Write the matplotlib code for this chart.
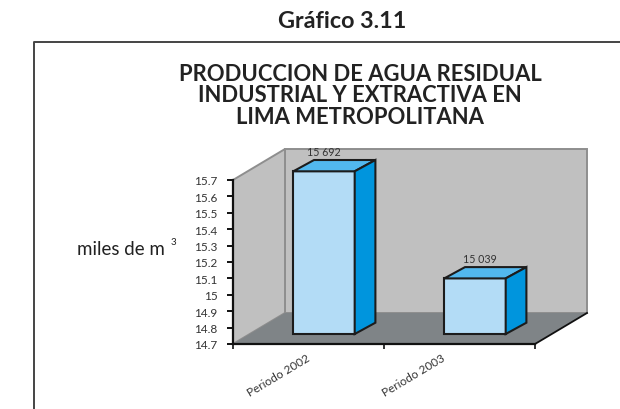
import matplotlib
matplotlib.use("Agg")
import matplotlib.pyplot as plt
from matplotlib.lines import Line2D
from matplotlib.patches import Polygon

plt.rcParams['font.family'] = ['Lato', 'DejaVu Sans']

periods = ["Periodo 2002", "Periodo 2003"]
values = [15.692, 15.039]
value_labels = ["15 692", "15 039"]
yticks = [14.7, 14.8, 14.9, 15, 15.1, 15.2, 15.3, 15.4, 15.5, 15.6, 15.7]
ytick_labels = ["14.7", "14.8", "14.9", "15", "15.1", "15.2", "15.3", "15.4", "15.5", "15.6", "15.7"]
title_lines = "PRODUCCION DE AGUA RESIDUAL\nINDUSTRIAL Y EXTRACTIVA EN\nLIMA METROPOLITANA"

W, H = 620, 410
fig = plt.figure(figsize=(W / 100, H / 100), dpi=100)
# front plane of the fake 3d box, pixels
ax = fig.add_axes([233 / W, (H - 345) / H, 302 / W, 164 / H])
ax.set_xlim(0, 2)
ax.set_ylim(14.7, 15.7)

px = 2 / 302    # one pixel in x units
py = 1 / 164    # one pixel in y units
wall_dx, wall_dy = 52 * px, 31 * py
side_dx, side_dy = 20.7 * px, 11.3 * py
bar_w = 61.4 * px
bar_shift = 15.5 * px
bar_lift = 10 * py
label_dx = [0 * px, 5 * px]         # value labels are not centred the same way
period_dx = [-2 * px, -18 * px]     # nor are the period labels

wall = '#c0c0c0'
wall_edge = '#8e8e8e'
floor = '#7f8487'
ink = '#333333'

y0, y1 = 14.7, 15.7


def poly(points, **kw):
    ax.add_patch(Polygon(points, closed=True, clip_on=False, **kw))


# walls and floor
poly([(wall_dx, y0 + wall_dy), (wall_dx, y1 + wall_dy), (2 + wall_dx, y1 + wall_dy), (2 + wall_dx, y0 + wall_dy)],
     facecolor=wall, edgecolor=wall_edge, lw=1.4, zorder=1)
poly([(0, y0), (0, y1), (wall_dx, y1 + wall_dy), (wall_dx, y0 + wall_dy)],
     facecolor=wall, edgecolor=wall_edge, lw=1.4, zorder=1)
poly([(0, y0), (2, y0), (2 + wall_dx, y0 + wall_dy), (wall_dx, y0 + wall_dy)],
     facecolor=floor, edgecolor='none', zorder=1.1)
ax.plot([2, 2 + wall_dx], [y0, y0 + wall_dy], color='#111111', lw=1.3, clip_on=False, zorder=1.2)

# bars
for i, v in enumerate(values):
    left = i + 0.5 + bar_shift - bar_w / 2
    right = left + bar_w
    base = y0 + bar_lift
    top = v + bar_lift
    edge = dict(edgecolor='#1c1c1c', lw=1.5, joinstyle='miter', zorder=3)
    poly([(left, base), (left, top), (right, top), (right, base)], facecolor='#b3dcf6', **edge)
    poly([(left, top), (left + side_dx, top + side_dy), (right + side_dx, top + side_dy), (right, top)],
         facecolor='#52b8ee', **edge)
    poly([(right, base), (right, top), (right + side_dx, top + side_dy), (right + side_dx, base + side_dy)],
         facecolor='#0095dd', **edge)
    ax.text(i + 0.5 + bar_shift + label_dx[i], top + side_dy + 3 * py, value_labels[i], ha='center', va='bottom',
            fontsize=7.7, color=ink, zorder=4, clip_on=False)

for s in ['top', 'right']:
    ax.spines[s].set_visible(False)
for s in ['left', 'bottom']:
    ax.spines[s].set_linewidth(1.6)
    ax.spines[s].set_color('#111111')
    ax.spines[s].set_zorder(2.5)
ax.patch.set_alpha(0)

ax.set_yticks(yticks)
ax.set_yticklabels(ytick_labels, fontsize=8.5, color=ink)
ax.tick_params(axis='y', length=4, width=1.4, color='#111111', pad=7)
ax.set_xticks([0, 1, 2])
ax.set_xticklabels([])
ax.tick_params(axis='x', length=3.5, width=1.2, color='#111111')

for i, name in enumerate(periods):
    ax.text(i + 0.5 + period_dx[i], y0 - 8 * py, name, rotation=31, ha='right', va='top', rotation_mode='anchor',
            fontsize=8.5, color=ink, clip_on=False)

# texts outside the box
fig.text(342.5 / W, 1 - 21 / H, "Gráfico 3.11", ha='center', va='center', fontsize=16.8, fontweight='bold', color='#222222')
fig.text(360 / W, 1 - 96 / H, title_lines, ha='center', va='center', fontsize=15.8, fontweight='bold',
         color='#222222', linespacing=1.03)
fig.text(77 / W, 1 - 250 / H, "miles de m", ha='left', va='center', fontsize=13.5, color='#222222')
fig.text(171 / W, 1 - 243 / H, "3", ha='left', va='center', fontsize=7, color='#222222')

# frame around the chart, open on the right and at the bottom
frame_x = [34 / W, 34 / W, 1]
frame_y = [0, 1 - 43 / H, 1 - 43 / H]
fig.add_artist(Line2D(frame_x, frame_y, color='#444444', lw=1.4))

fig.savefig("out.png", dpi=100)
